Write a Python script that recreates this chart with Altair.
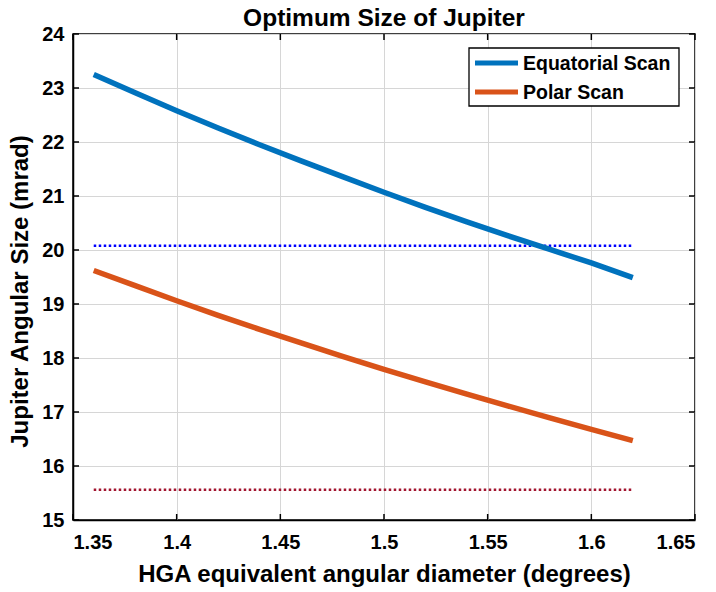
import altair as alt
import pandas as pd

# HGA equivalent angular diameter (degrees)
hga_deg = [1.36, 1.38, 1.40, 1.42, 1.44, 1.46, 1.48, 1.50, 1.52, 1.54, 1.56, 1.58, 1.60, 1.62]
# Optimum Jupiter angular size (mrad) for each scan
equatorial = [23.25, 22.91, 22.58, 22.26, 21.95, 21.65, 21.36, 21.07, 20.79, 20.52, 20.26, 20.01, 19.76, 19.49]
polar = [19.62, 19.34, 19.06, 18.79, 18.53, 18.28, 18.03, 17.79, 17.56, 17.33, 17.11, 16.89, 16.68, 16.47]

series_names = ["Equatorial Scan", "Polar Scan"]
series_colors = ["#0072BD", "#D95319"]

# Reference levels drawn as dotted lines
ref_x = [1.36, 1.62]
ref_equatorial = 20.08
ref_polar = 15.56

x_ticks = [1.35, 1.40, 1.45, 1.50, 1.55, 1.60, 1.65]
y_ticks = [15, 16, 17, 18, 19, 20, 21, 22, 23, 24]

W, H = 622, 486
FONT = "Liberation Sans"

rows = []
for name, vals in zip(series_names, [equatorial, polar]):
    for xv, yv in zip(hga_deg, vals):
        rows.append({"x": xv, "y": yv, "series": name})
df = pd.DataFrame(rows)

ref_df = pd.DataFrame(
    [{"x": xv, "y": ref_equatorial, "ref": "eq"} for xv in ref_x]
    + [{"x": xv, "y": ref_polar, "ref": "po"} for xv in ref_x]
)

x_scale = alt.Scale(domain=[1.35, 1.65], nice=False, zero=False)
y_scale = alt.Scale(domain=[15, 24], nice=False, zero=False)

x_axis = alt.Axis(values=x_ticks, format="~g", title="HGA equivalent angular diameter (degrees)",
                  grid=True, ticks=False, labelPadding=12, titlePadding=10)
y_axis = alt.Axis(values=y_ticks, format="d", title="Jupiter Angular Size (mrad)",
                  grid=True, ticks=False, labelPadding=9, titlePadding=9,
                  titleY=H / 2 + 14)

lines = alt.Chart(df).mark_line(strokeWidth=5.5, strokeCap="butt").encode(
    x=alt.X("x:Q", scale=x_scale, axis=x_axis),
    y=alt.Y("y:Q", scale=y_scale, axis=y_axis),
    color=alt.Color("series:N", scale=alt.Scale(domain=series_names, range=series_colors),
                    legend=None),
    detail="series:N",
)

ref_eq = alt.Chart(ref_df[ref_df["ref"] == "eq"]).mark_line(
    color="#0000FF", strokeWidth=2.5, strokeDash=[2.5, 2.5]
).encode(x=alt.X("x:Q", scale=x_scale), y=alt.Y("y:Q", scale=y_scale))

ref_po = alt.Chart(ref_df[ref_df["ref"] == "po"]).mark_line(
    color="#A2142F", strokeWidth=2.5, strokeDash=[2.5, 2.5]
).encode(x=alt.X("x:Q", scale=x_scale), y=alt.Y("y:Q", scale=y_scale))

# Inward tick marks on all four sides of the box
xt = pd.DataFrame({"x": x_ticks})
yt = pd.DataFrame({"y": y_ticks})
tick_style = dict(color="black", strokeWidth=1.5)
xt_bottom = alt.Chart(xt).mark_rule(**tick_style).encode(
    x=alt.X("x:Q", scale=x_scale), y=alt.value(H), y2=alt.value(H - 6))
xt_top = alt.Chart(xt).mark_rule(**tick_style).encode(
    x=alt.X("x:Q", scale=x_scale), y=alt.value(0), y2=alt.value(6))
yt_left = alt.Chart(yt).mark_rule(**tick_style).encode(
    y=alt.Y("y:Q", scale=y_scale), x=alt.value(0), x2=alt.value(6))
yt_right = alt.Chart(yt).mark_rule(**tick_style).encode(
    y=alt.Y("y:Q", scale=y_scale), x=alt.value(W), x2=alt.value(W - 6))

# Legend box in the upper right corner
one = pd.DataFrame({"k": [0]})
legend_box = alt.Chart(one).mark_rect(
    fill="white", stroke="black", strokeWidth=1.3
).encode(x=alt.value(396), x2=alt.value(606), y=alt.value(14), y2=alt.value(72))

legend_layers = [legend_box]
for i, (name, col) in enumerate(zip(series_names, series_colors)):
    row_y = 29 + 29 * i
    legend_layers.append(
        alt.Chart(one).mark_rule(color=col, strokeWidth=5).encode(
            x=alt.value(402), x2=alt.value(445), y=alt.value(row_y))
    )
    legend_layers.append(
        alt.Chart(one).mark_text(
            text=name, align="left", baseline="middle", font=FONT,
            fontSize=19.5, fontWeight="bold", color="black"
        ).encode(x=alt.value(450), y=alt.value(row_y + 1))
    )

chart = alt.layer(
    ref_eq, ref_po, lines, xt_bottom, xt_top, yt_left, yt_right, *legend_layers
).properties(
    width=W, height=H,
    title=alt.TitleParams("Optimum Size of Jupiter", font=FONT, fontSize=24.5,
                          fontWeight="bold", color="black", anchor="middle",
                          offset=6, dy=13),
    autosize=alt.AutoSizeParams(type="none"),
    padding={"left": 73, "top": 34, "right": 21, "bottom": 72},
    background="white",
).configure_view(
    stroke="black", strokeWidth=1.5
).configure_axis(
    domainColor="black", domainWidth=1.5,
    gridColor="#d6d6d6", gridWidth=1,
    labelFont=FONT, labelFontSize=20, labelFontWeight="bold", labelColor="black",
    titleFont=FONT, titleFontSize=24, titleFontWeight="bold", titleColor="black",
)

chart.save("out.html", embed_options={"renderer": "svg", "actions": False})
